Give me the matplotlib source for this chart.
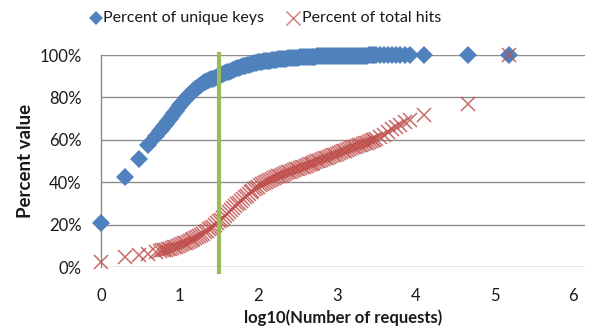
import matplotlib
matplotlib.use("Agg")
import matplotlib.pyplot as plt
from matplotlib.lines import Line2D
from matplotlib.ticker import FuncFormatter

# log10(number of requests) for each distinct request count
log_requests = [0, 0.301, 0.477, 0.602, 0.699,
                0.75, 0.775, 0.8, 0.825, 0.85, 0.875, 0.9, 0.925, 0.95, 0.975,
                1.0, 1.025, 1.05, 1.075, 1.1, 1.125, 1.15, 1.175, 1.2, 1.225,
                1.25, 1.275, 1.3, 1.325, 1.35, 1.375, 1.4, 1.425, 1.45, 1.475,
                1.5, 1.525, 1.55, 1.575, 1.6, 1.625, 1.65, 1.675, 1.7, 1.725,
                1.75, 1.775, 1.8, 1.825, 1.85, 1.875, 1.9, 1.925, 1.95, 1.975,
                2.0, 2.025, 2.05, 2.075, 2.1, 2.125, 2.15, 2.175, 2.2, 2.225,
                2.25, 2.275, 2.3, 2.325, 2.35, 2.375, 2.4, 2.425, 2.45, 2.475,
                2.5, 2.525, 2.55, 2.575, 2.6, 2.625, 2.65, 2.675, 2.7, 2.725,
                2.75, 2.775, 2.8, 2.825, 2.85, 2.875, 2.9, 2.925, 2.95, 2.975,
                3.0, 3.025, 3.05, 3.075, 3.1, 3.125, 3.15, 3.175, 3.2, 3.225,
                3.25, 3.275, 3.3, 3.325, 3.35, 3.375, 3.4, 3.425, 3.45, 3.475,
                3.5, 3.55, 3.6, 3.65, 3.7, 3.75, 3.8, 3.86, 3.92, 4.1,
                4.66, 5.18]

pct_unique_keys = [20.7, 42.5, 51, 57.5, 62,
                   64.3, 65.3, 66.5, 67.6, 68.8, 70.0, 71.3, 72.5, 73.7, 75.2,
                   76.5, 77.5, 78.5, 79.5, 80.5, 81.4, 82.3, 83.1, 83.9, 84.6,
                   85.3, 86.0, 86.6, 87.1, 87.6, 88.1, 88.5, 88.9, 89.3, 89.7,
                   90.1, 90.5, 91.0, 91.4, 91.8, 92.2, 92.6, 93.0, 93.3, 93.7,
                   94.0, 94.3, 94.6, 94.9, 95.1, 95.4, 95.6, 95.9, 96.1, 96.3,
                   96.5, 96.7, 96.8, 97.0, 97.1, 97.3, 97.4, 97.6, 97.7, 97.8,
                   97.9, 98.0, 98.1, 98.2, 98.3, 98.4, 98.5, 98.55, 98.6, 98.7,
                   98.8, 98.85, 98.9, 98.95, 99.0, 99.05, 99.1, 99.15, 99.2, 99.25,
                   99.3, 99.32, 99.35, 99.38, 99.4, 99.42, 99.45, 99.48, 99.5, 99.52,
                   99.55, 99.57, 99.6, 99.61, 99.62, 99.63, 99.65, 99.66, 99.68, 99.69,
                   99.7, 99.71, 99.72, 99.73, 99.75, 99.76, 99.77, 99.78, 99.79, 99.8,
                   99.8, 99.82, 99.84, 99.85, 99.86, 99.88, 99.9, 99.91, 99.92, 99.95,
                   99.98, 100]

pct_total_hits = [2.5, 4.5, 5.7, 6.3, 7.2,
                  7.6, 7.8, 8.0, 8.2, 8.5, 8.7, 9.0, 9.3, 9.6, 9.9,
                  10.3, 10.7, 11.1, 11.5, 12.0, 12.4, 12.8, 13.2, 13.7, 14.2,
                  14.7, 15.2, 15.8, 16.4, 17.0, 17.7, 18.4, 19.1, 19.9, 20.7,
                  21.5, 22.4, 23.2, 24.1, 25.0, 25.9, 26.8, 27.7, 28.6, 29.5,
                  30.4, 31.3, 32.1, 32.9, 33.7, 34.5, 35.2, 35.9, 36.6, 37.3,
                  37.9, 38.5, 39.0, 39.5, 40.0, 40.5, 41.0, 41.5, 41.9, 42.3,
                  42.7, 43.1, 43.5, 43.9, 44.2, 44.6, 44.9, 45.3, 45.6, 46.0,
                  46.3, 46.7, 47.0, 47.4, 47.7, 48.1, 48.4, 48.8, 49.1, 49.5,
                  49.8, 50.2, 50.5, 50.9, 51.2, 51.6, 51.9, 52.3, 52.6, 53.0,
                  53.3, 53.7, 54.1, 54.5, 54.9, 55.3, 55.7, 56.1, 56.5, 56.8,
                  57.2, 57.4, 57.6, 58.0, 58.3, 58.7, 59.0, 59.4, 59.7, 60.1,
                  60.5, 61.5, 62.5, 63.8, 65.0, 66.0, 67.0, 68.5, 69.5, 71.7,
                  77.0, 100]

x_ticks = [0, 1, 2, 3, 4, 5, 6]
y_ticks = [0, 20, 40, 60, 80, 100]
threshold = 1.5

BLUE = "#4F81BD"
RED = "#C0504D"
GREEN = "#9BBB59"
GRID = "#8C8C8C"
TEXT = "#1a1a1a"

plt.rcParams['font.family'] = ['Lato', 'DejaVu Sans']

fig = plt.figure(figsize=(5.95, 3.31), dpi=100)
W, H = 595, 331
left, right, top, bottom = 101, 585, 55, 267
ax = fig.add_axes([left / W, 1 - bottom / H, (right - left) / W, (bottom - top) / H])

ax.set_xlim(0, 6.15)
ax.set_ylim(0, 100)
ax.set_yticks(y_ticks)
ax.set_xticks(x_ticks)
ax.yaxis.set_major_formatter(FuncFormatter(lambda v, p: f"{int(v)}%"))
ax.grid(axis='y', color=GRID, linewidth=1.0)
ax.set_axisbelow(True)
for s in ['top', 'right', 'bottom']:
    ax.spines[s].set_visible(False)
ax.spines['left'].set_color(GRID)
ax.spines['left'].set_linewidth(1.0)
ax.tick_params(length=0, labelsize=12, colors=TEXT)
ax.tick_params(axis='y', pad=14)
ax.tick_params(axis='x', pad=15)

ax.plot(log_requests, pct_unique_keys, linestyle='none', marker='D', markersize=9.3,
        color=BLUE, markeredgewidth=0, clip_on=False, zorder=3)
ax.plot(log_requests, pct_total_hits, linestyle='none', marker='x', markersize=10,
        color=RED, markeredgewidth=1.1, alpha=0.85, clip_on=False, zorder=4)

ax.plot([threshold, threshold], [-2.5, 100.5], color=GREEN, linewidth=3, clip_on=False, zorder=5)

ax.set_xlabel("log10(Number of requests)", fontsize=12, fontweight='bold', labelpad=4, color=TEXT)
ax.set_ylabel("Percent value", fontsize=13.5, fontweight='bold', labelpad=4, color=TEXT)

# legend
fig.add_artist(Line2D([96 / W], [1 - 18 / H], transform=fig.transFigure, marker='D',
                      markersize=7.5, color=BLUE, markeredgewidth=0, linestyle='none'))
fig.text(103 / W, 1 - 18 / H, "Percent of unique keys", fontsize=11.5, va='center', ha='left', color=TEXT)
fig.add_artist(Line2D([293 / W], [1 - 18 / H], transform=fig.transFigure, marker='x',
                      markersize=10, color=RED, markeredgewidth=1.0, alpha=0.75, linestyle='none'))
fig.text(302 / W, 1 - 18 / H, "Percent of total hits", fontsize=11.5, va='center', ha='left', color=TEXT)

fig.savefig("out.png", dpi=100)
